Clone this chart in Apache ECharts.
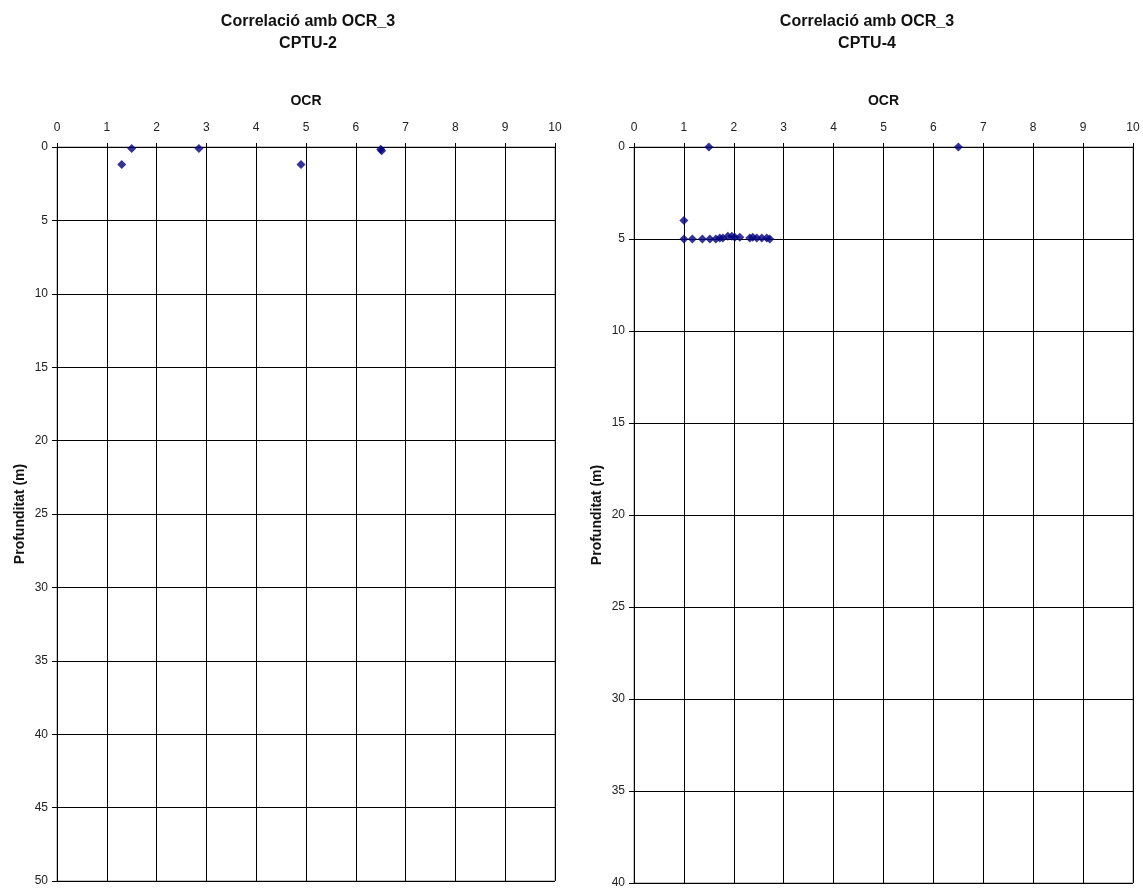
<!DOCTYPE html>
<html>
<head>
<meta charset="utf-8">
<script src="https://cdn.jsdelivr.net/npm/echarts@6/dist/echarts.min.js"></script>
<style>
html,body{margin:0;padding:0;background:#fff;}
#chart{width:1143px;height:889px;}
</style>
</head>
<body>
<div id="chart"></div>
<script>
// ---- data ----
var titleMain = "Correlació amb OCR_3";
var titleLeft = "CPTU-2";
var titleRight = "CPTU-4";
var xName = "OCR";
var yName = "Profunditat (m)";

var cptu2_ocr   = [1.5, 2.85, 6.5, 6.52, 1.3, 4.9];
var cptu2_depth = [0.1, 0.1, 0.15, 0.25, 1.2, 1.2];

var cptu4_ocr   = [1.5, 6.5, 1.0, 1.0, 1.17, 1.37, 1.52, 1.64, 1.72, 1.78, 1.88, 1.96, 2.02, 2.12, 2.32, 2.38, 2.46, 2.56, 2.66, 2.72];
var cptu4_depth = [0.0, 0.0, 4.0, 5.0, 5.0, 5.0, 5.0, 5.0, 4.95, 4.95, 4.85, 4.85, 4.9, 4.9, 4.95, 4.9, 4.95, 4.95, 4.95, 5.0];

var xMin = 0, xMax = 10, xStep = 1;
var yMaxLeft = 50, yMaxRight = 40, yStep = 5;

function pairs(xs, ys){ return xs.map(function(x,i){ return [x, ys[i]]; }); }

var chart = echarts.init(document.getElementById('chart'));

var fontFam = '"Liberation Sans", Arial, sans-serif';
function xAxisCfg(gi){
  return {
    gridIndex: gi, type: 'value', position: 'top',
    min: xMin, max: xMax, interval: xStep,
    name: xName, nameLocation: 'middle', nameGap: 39,
    nameTextStyle: {fontFamily: fontFam, fontWeight: 'bold', fontSize: 14, color: '#111'},
    axisLine: {show: true, onZero: false, lineStyle: {color: '#000', width: 1}},
    axisTick: {show: true, inside: false, length: 4, lineStyle: {color: '#000'}},
    axisLabel: {fontFamily: fontFam, fontSize: 12, color: '#222', margin: 13},
    splitLine: {show: true, lineStyle: {color: '#000', width: 1}}
  };
}
function yAxisCfg(gi, ymax){
  return {
    gridIndex: gi, type: 'value', inverse: true,
    min: 0, max: ymax, interval: yStep,
    name: yName, nameLocation: 'middle', nameGap: 30, nameRotate: 90,
    nameTextStyle: {fontFamily: fontFam, fontWeight: 'bold', fontSize: 14, color: '#111'},
    axisLine: {show: true, onZero: false, lineStyle: {color: '#000', width: 1}},
    axisTick: {show: true, inside: false, length: 5, lineStyle: {color: '#000'}},
    axisLabel: {fontFamily: fontFam, fontSize: 12, color: '#222', margin: 9},
    splitLine: {show: true, lineStyle: {color: '#000', width: 1}}
  };
}

var option = {
  backgroundColor: '#fff',
  animation: false,
  title: [
    {text: titleMain + '\n' + titleLeft, left: 303, top: 6, textAlign: 'center',
     textStyle: {fontFamily: fontFam, fontWeight: 'bold', fontSize: 16, color: '#111', lineHeight: 22}},
    {text: titleMain + '\n' + titleRight, left: 862, top: 6, textAlign: 'center',
     textStyle: {fontFamily: fontFam, fontWeight: 'bold', fontSize: 16, color: '#111', lineHeight: 22}}
  ],
  grid: [
    {left: 57, top: 147, width: 498, height: 734, show: true, borderColor: '#888', borderWidth: 1, backgroundColor: '#fff'},
    {left: 634, top: 147, width: 499, height: 738, show: true, borderColor: '#888', borderWidth: 1, backgroundColor: '#fff'}
  ],
  xAxis: [xAxisCfg(0), xAxisCfg(1)],
  yAxis: [yAxisCfg(0, yMaxLeft), yAxisCfg(1, yMaxRight)],
  series: [
    {type: 'scatter', xAxisIndex: 0, yAxisIndex: 0, data: pairs(cptu2_ocr, cptu2_depth),
     symbol: 'diamond', symbolSize: 9, itemStyle: {color: '#00007f'}},
    {type: 'scatter', xAxisIndex: 1, yAxisIndex: 1, data: pairs(cptu4_ocr, cptu4_depth),
     symbol: 'diamond', symbolSize: 9, itemStyle: {color: '#00007f'}}
  ]
};
chart.setOption(option);
</script>
</body>
</html>
